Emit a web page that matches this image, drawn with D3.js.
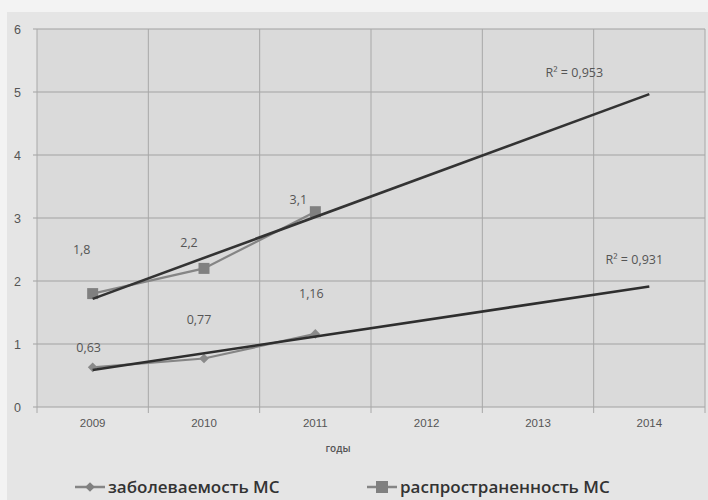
<!DOCTYPE html>
<html><head><meta charset="utf-8">
<script src="https://cdn.jsdelivr.net/npm/d3@7"></script>
<style>body{margin:0;background:#f3f3f3;} svg{display:block;font-family:"Open Sans",sans-serif;}</style>
</head><body>
<svg id="c" width="708" height="500"></svg>
<script>
const years = ["2009","2010","2011","2012","2013","2014"];
const incidenceYears = ["2009","2010","2011"];
const incidence = [0.63, 0.77, 1.16];
const incidenceLabels = ["0,63","0,77","1,16"];
const prevalenceYears = ["2009","2010","2011"];
const prevalence = [1.8, 2.2, 3.1];
const prevalenceLabels = ["1,8","2,2","3,1"];
const yTicks = [0,1,2,3,4,5,6];
const r2Labels = ["R² = 0,931", "R² = 0,953"];
const seriesNames = ["заболеваемость МС", "распространенность МС"];
const xTitle = "годы";

const svg = d3.select("#c");
const L = 37, R = 705, T = 29, B = 407;
svg.append("rect").attr("x",7).attr("y",12).attr("width",701).attr("height",488).attr("fill","#e5e5e5");
svg.append("rect").attr("x",L).attr("y",T).attr("width",R-L).attr("height",B-T).attr("fill","#dadada");

const x = d3.scaleBand().domain(years).range([L,R]).padding(0);
const xc = d => x(d) + x.bandwidth()/2;
const y = d3.scaleLinear().domain([0,6]).range([B,T]);

// gridlines
svg.append("g").selectAll("line").data(yTicks).join("line")
  .attr("x1",L-4).attr("x2",R).attr("y1",d=>y(d)).attr("y2",d=>y(d))
  .attr("stroke","#a2a2a2").attr("stroke-width",1.2);
const bounds = years.map(d=>x(d)).concat([R]);
svg.append("g").selectAll("line").data(bounds.slice(1)).join("line")
  .attr("x1",d=>d).attr("x2",d=>d).attr("y1",T).attr("y2",B+6)
  .attr("stroke","#a8a8a8").attr("stroke-width",1);
svg.append("line").attr("x1",L).attr("x2",L).attr("y1",T).attr("y2",B+6).attr("stroke","#a8a8a8");

// axis labels
const yAxis = svg.append("g").attr("transform",`translate(${L-4},0)`)
  .call(d3.axisLeft(y).tickValues(yTicks).tickSize(0).tickPadding(12).tickFormat(d3.format("d")));
yAxis.select(".domain").remove();
yAxis.selectAll("text").attr("fill","#555").style("font-size","12.5px");
const xAxis = svg.append("g").attr("transform",`translate(0,${B})`)
  .call(d3.axisBottom(x).tickSize(0).tickPadding(12));
xAxis.select(".domain").remove();
xAxis.selectAll("text").attr("fill","#555").style("font-size","11.5px");
svg.append("text").attr("x",338).attr("y",452).attr("text-anchor","middle")
  .attr("fill","#555").style("font-size","10px").style("font-weight","600").text(xTitle);

// trend lines (least squares)
function fit(vals){
  const xs=vals.map((_,i)=>i+1);
  const mx=d3.mean(xs), my=d3.mean(vals);
  const b=d3.sum(xs.map((xi,i)=>(xi-mx)*(vals[i]-my)))/d3.sum(xs.map(xi=>(xi-mx)**2));
  return {a:my-b*mx,b};
}
const line = d3.line().x(d=>xc(d[0])).y(d=>y(d[1]));
function trend(vals){
  const f=fit(vals);
  return [[years[0],f.a+f.b*1],[years[years.length-1],f.a+f.b*years.length]];
}

// data lines
const gray = "#858585";
svg.append("path").datum(prevalenceYears.map((d,i)=>[d,prevalence[i]])).attr("d",line)
  .attr("fill","none").attr("stroke",gray).attr("stroke-width",2.2);
svg.append("path").datum(incidenceYears.map((d,i)=>[d,incidence[i]])).attr("d",line)
  .attr("fill","none").attr("stroke",gray).attr("stroke-width",2.2);
svg.append("g").selectAll("rect").data(prevalence).join("rect")
  .attr("x",(d,i)=>xc(prevalenceYears[i])-5.5).attr("y",d=>y(d)-5.5)
  .attr("width",11).attr("height",11).attr("fill","#808080");
svg.append("g").selectAll("path").data(incidence).join("path")
  .attr("d",d3.symbol(d3.symbolDiamond2,60))
  .attr("transform",(d,i)=>`translate(${xc(incidenceYears[i])},${y(d)})`).attr("fill","#8a8a8a");

svg.append("path").datum(trend(prevalence)).attr("d",line)
  .attr("fill","none").attr("stroke","#333").attr("stroke-width",2.6);
svg.append("path").datum(trend(incidence)).attr("d",line)
  .attr("fill","none").attr("stroke","#2e2e2e").attr("stroke-width",2.6);

// data labels
const lab = svg.append("g").attr("fill","#555").style("font-size","12.5px").attr("text-anchor","middle");
const prevOff = [[-11,-40],[-15,-21],[-17,-8]];
const incOff = [[-4,-15],[-5,-34],[-4,-36]];
prevalence.forEach((v,i)=>lab.append("text").attr("x",xc(prevalenceYears[i])+prevOff[i][0]).attr("y",y(v)+prevOff[i][1]).text(prevalenceLabels[i]));
incidence.forEach((v,i)=>lab.append("text").attr("x",xc(incidenceYears[i])+incOff[i][0]).attr("y",y(v)+incOff[i][1]).text(incidenceLabels[i]));
// R² labels near trend end
const tP = trend(prevalence), tI = trend(incidence);
lab.append("text").attr("x",xc(years[5])-75).attr("y",y(tP[1][1])-17).style("font-size","12.5px").text(r2Labels[1]);
lab.append("text").attr("x",xc(years[5])-15).attr("y",y(tI[1][1])-22).style("font-size","12.5px").text(r2Labels[0]);

// legend
const lg = svg.append("g");
[[75,seriesNames[0],"d"],[367,seriesNames[1],"s"]].forEach(([lx,name,t])=>{
  lg.append("line").attr("x1",lx).attr("x2",lx+30).attr("y1",487).attr("y2",487).attr("stroke",gray).attr("stroke-width",2.5);
  if(t==="s") lg.append("rect").attr("x",lx+9).attr("y",481).attr("width",12).attr("height",12).attr("fill","#808080");
  else lg.append("path").attr("d",d3.symbol(d3.symbolDiamond2,60)).attr("transform",`translate(${lx+15},487)`).attr("fill","#808080");
  lg.append("text").attr("x",lx+33).attr("y",493).attr("fill","#333").style("font-size","17px").style("font-weight","600").text(name);
});
</script>
</body></html>
